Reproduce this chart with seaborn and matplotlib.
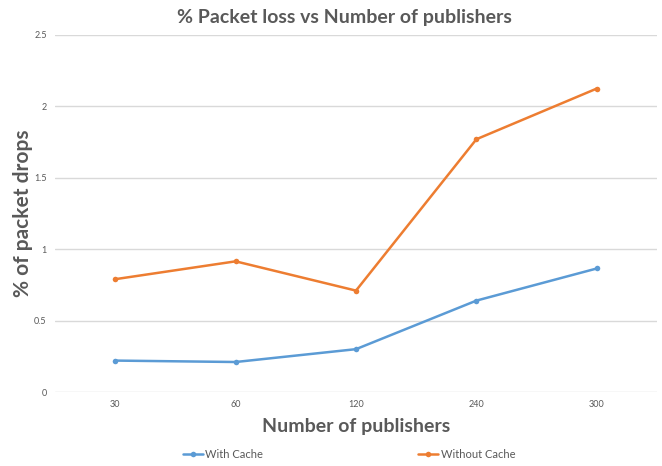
import matplotlib
matplotlib.use("Agg")
import matplotlib.pyplot as plt
import seaborn as sns
import pandas as pd

publishers = ["30", "60", "120", "240", "300"]
with_cache = [0.22, 0.21, 0.30, 0.64, 0.865]
without_cache = [0.79, 0.915, 0.71, 1.77, 2.125]
yticks = [0, 0.5, 1, 1.5, 2, 2.5]
ytick_labels = ["0", "0.5", "1", "1.5", "2", "2.5"]

df = pd.DataFrame({
    "Publishers": publishers * 2,
    "Drops": with_cache + without_cache,
    "Series": ["With Cache"] * len(publishers) + ["Without Cache"] * len(publishers),
})

sns.set_theme(style="white")
plt.rcParams["font.family"] = ["Lato", "DejaVu Sans"]

fig = plt.figure(figsize=(6.62, 4.66), dpi=100)
ax = fig.add_axes([55 / 662, 74 / 466, 602 / 662, 357 / 466])

palette = {"With Cache": "#5B9BD5", "Without Cache": "#ED7D31"}
sns.lineplot(data=df, x="Publishers", y="Drops", hue="Series", palette=palette,
             marker="o", markersize=4, markeredgewidth=0, linewidth=1.8,
             sort=False, ax=ax, legend=True)

ax.set_xlim(-0.5, 4.5)
ax.set_ylim(0, 2.5)
ax.set_yticks(yticks)
ax.set_yticklabels(ytick_labels)
ax.yaxis.grid(True, color="#D9D9D9", linewidth=1)
ax.xaxis.grid(False)
for s in ax.spines.values():
    s.set_visible(False)
ax.tick_params(axis="both", length=0, labelsize=6.5, colors="#595959")
ax.tick_params(axis="y", pad=6)
ax.tick_params(axis="x", pad=6)

ax.set_xlabel("Number of publishers", fontsize=14, fontweight="bold", color="#595959", labelpad=6)
ax.set_ylabel("% of packet drops", fontsize=15, fontweight="bold", color="#595959")
ax.yaxis.set_label_coords(-0.037, 0.5)
fig.text(344 / 662, 1 - 17 / 466, "% Packet loss vs Number of publishers", fontsize=14,
         fontweight="bold", color="#595959", ha="center", va="center")

handles, labels = ax.get_legend_handles_labels()
ax.get_legend().remove()
fig.legend(handles, labels, loc="center", bbox_to_anchor=(0.527, 12 / 466), ncol=2,
           frameon=False, fontsize=8, labelcolor="#595959", columnspacing=14,
           handlelength=1.8, handletextpad=0.2)

fig.savefig("out.png", dpi=100, facecolor="white")
